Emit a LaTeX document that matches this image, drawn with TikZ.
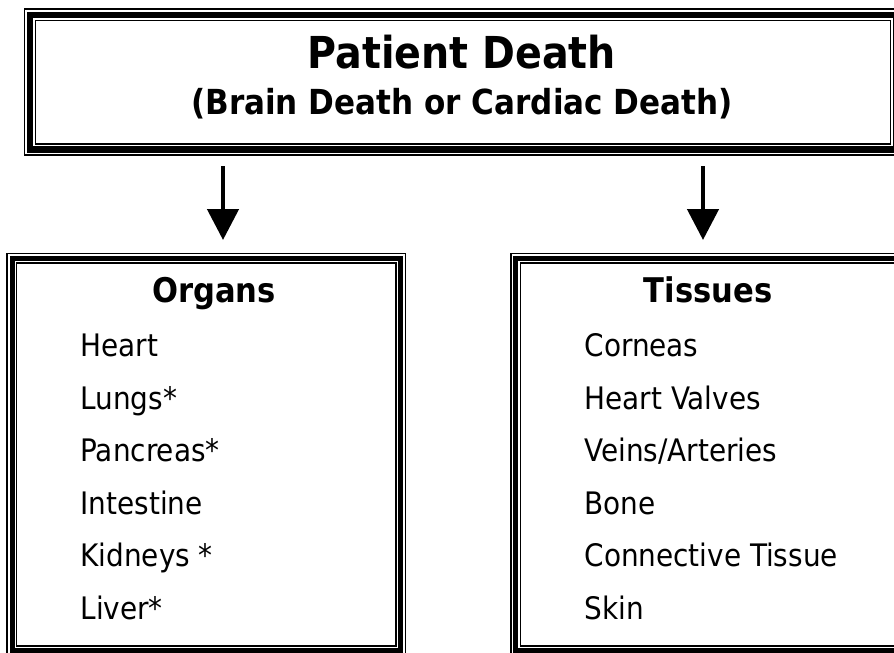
\documentclass[tikz,border=0pt]{standalone}
\usepackage{fontspec}
\setmainfont{DejaVu Sans Condensed}
\usetikzlibrary{positioning,arrows.meta}

\begin{document}
\begin{tikzpicture}[x=1pt,y=-1pt,
  box/.style={inner sep=0pt,outer sep=0pt,minimum width=#1},
  head/.style={font=\bfseries\fontsize{34}{36}\selectfont,anchor=base},
  item/.style={font=\fontsize{31}{33}\selectfont,anchor=base west},
  arr/.style={line width=4.7pt,-{Triangle[length=31pt,width=31pt]},shorten <=11pt,shorten >=13.5pt}]
\useasboundingbox (0,0) rectangle (894,653);
\clip (0,0) rectangle (894,653);
% outer frames (centre line of the outer thin rule)
\node[box=877.5pt,minimum height=145.8pt] (death) at (463,82.1) {};
\node[box=398.3pt,minimum height=402pt] (organs) at (206.35,454.5) {};
\node[box=398.3pt,minimum height=402pt] (tissues) at (709.9,454.5) {};
% thin - thick - thin rules
\foreach \b/\m/\w/\i in {death/5.8/6.7/11,organs/5/5/9.5,tissues/5/5/9.5}{
  \draw[line width=1.5pt] (\b.north west) rectangle (\b.south east);
  \draw[line width=\w pt] ([shift={(\m,\m)}]\b.north west) rectangle ([shift={(-\m,-\m)}]\b.south east);
  \draw[line width=1.2pt] ([shift={(\i,\i)}]\b.north west) rectangle ([shift={(-\i,-\i)}]\b.south east);
}
% titles
\node[font=\bfseries\fontsize{44}{48}\selectfont,anchor=base] (t1) at (462,68) {Patient Death};
\node[font=\bfseries\fontsize{34.5}{38}\selectfont,anchor=base] (t2) at (462,114) {(Brain Death or Cardiac Death)};
\node[head] (oh) at (214,302) {Organs};
\node[head] (th) at (708,302) {Tissues};
% lists
\foreach \t [count=\k from 0] in {Heart,Lungs*,Pancreas*,Intestine,Kidneys *,Liver*}{
  \node[item] (o\k) at (77,356.7+52.5*\k) {\t};
}
\foreach \t [count=\k from 0] in {Corneas,Heart Valves,Veins/Arteries,Bone,Connective Tissue,Skin}{
  \node[item] (s\k) at (581,356.7+52.5*\k) {\t};
}
% arrows
\draw[arr] (death.south -| 223,0) -- (organs.north -| 223,0);
\draw[arr] (death.south -| 703,0) -- (tissues.north -| 703,0);
\end{tikzpicture}
\end{document}
